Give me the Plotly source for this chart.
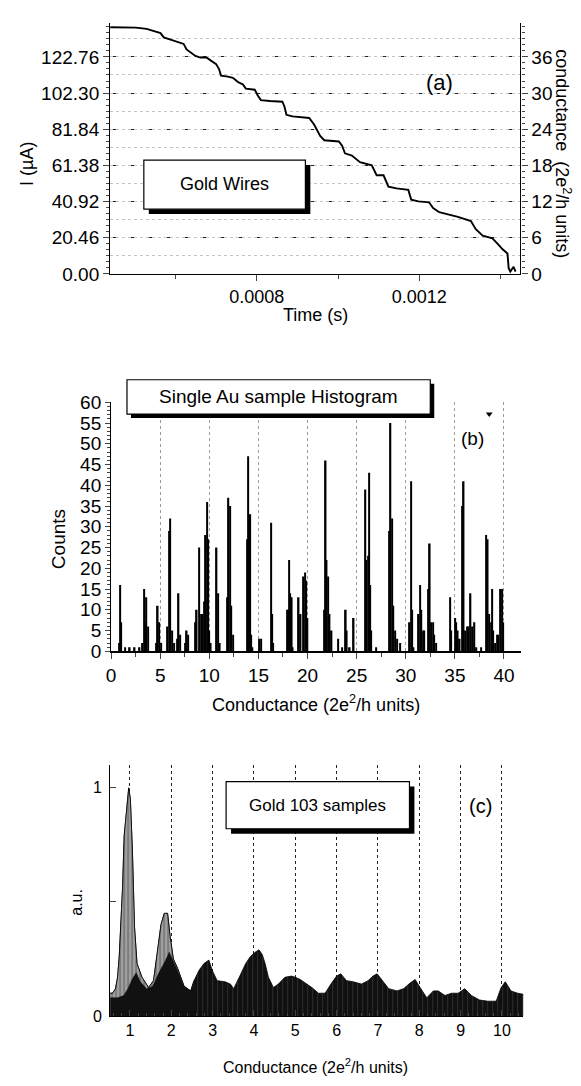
import plotly.graph_objects as go

# (a) current trace while a gold wire breaks
time_s = [0.000439, 0.000473, 0.000502, 0.000529, 0.000554, 0.000563, 0.000571, 0.000588,
          0.000607, 0.000620, 0.000627, 0.000637, 0.000649, 0.000661, 0.000676, 0.000688,
          0.000700, 0.000707, 0.000712, 0.000729, 0.000741, 0.000754, 0.000766, 0.000773,
          0.000795, 0.000802, 0.000810, 0.000832, 0.000863, 0.000868, 0.000873, 0.000888,
          0.000920, 0.000929, 0.000941, 0.000956, 0.000966, 0.000985, 0.001002, 0.001010,
          0.001017, 0.001034, 0.001054, 0.001083, 0.001095, 0.001112, 0.001124, 0.001144,
          0.001173, 0.001180, 0.001198, 0.001224, 0.001234, 0.001249, 0.001271, 0.001295,
          0.001327, 0.001339, 0.001356, 0.001380, 0.001393, 0.001405, 0.001417, 0.001420,
          0.001424, 0.001432, 0.001437]
current_ua = [139.5, 139.5, 139.3, 138.6, 137.1, 136.2, 133.8, 132.5,
              131.3, 130.1, 127.0, 125.2, 123.3, 122.4, 122.4, 120.5,
              118.7, 115.9, 112.2, 111.6, 110.9, 108.5, 107.2, 104.8,
              104.2, 101.1, 98.3, 97.8, 97.4, 94.7, 90.0, 89.1,
              88.6, 88.2, 84.5, 78.0, 75.6, 75.2, 74.9, 72.5,
              68.2, 66.9, 63.2, 61.4, 55.8, 55.8, 49.4, 48.4,
              47.5, 42.0, 41.0, 40.5, 37.3, 34.9, 33.7, 32.3,
              29.9, 25.3, 21.6, 20.1, 17.0, 13.9, 11.5, 3.2,
              1.3, 4.0, 1.3]
left_ticks = [0.00, 20.46, 40.92, 61.38, 81.84, 102.30, 122.76]
right_ticks = [0, 6, 12, 18, 24, 30, 36]

# (b) single Au sample histogram
hist_g = [0.8, 0.9, 1.0, 1.4, 1.9, 2.4, 2.9, 3.2, 3.35, 3.5, 3.6, 3.75, 4.6, 4.75, 4.9, 5.1,
          5.7, 5.9, 6.02, 6.2, 6.4, 6.75, 6.87, 7.0, 7.55, 7.7, 7.85, 8.55, 8.72, 8.96, 9.16,
          9.33, 9.5, 9.63, 9.77, 9.87, 10.0, 10.15, 10.74, 10.9, 11.07, 11.85, 11.95, 12.09,
          12.25, 12.4, 13.84, 13.94, 14.04, 14.16, 14.26, 14.4, 15.1, 15.25, 16.3, 16.4, 16.5,
          17.9, 18.0, 18.15, 18.25, 18.4, 18.5, 19.1, 19.3, 19.6, 19.75, 19.85, 20.0, 21.7,
          21.85, 21.95, 22.1, 22.25, 22.45, 23.1, 23.5, 23.9, 24.0, 24.3, 24.7, 25.9, 26.0,
          26.15, 26.25, 26.4, 26.5, 27.0, 28.3, 28.45, 28.6, 28.75, 28.9, 29.1, 29.4, 30.4,
          30.55, 30.65, 30.8, 31.3, 31.45, 31.6, 31.75, 31.9, 32.35, 32.45, 32.6, 32.8, 32.9,
          33.1, 34.5, 34.6, 35.0, 35.15, 35.3, 35.5, 35.8, 35.9, 36.05, 36.3, 36.4, 36.6,
          36.8, 37.0, 37.2, 37.7, 38.2, 38.35, 38.5, 38.7, 38.8, 38.9, 39.1, 39.3, 39.4,
          39.67, 39.8, 39.9]
hist_counts = [2, 16, 7, 1, 1, 1, 1, 2, 15, 7, 13, 6, 2, 11, 7, 2,
               6, 29, 32, 5, 2, 3, 14, 4, 2, 5, 4, 7, 10, 25, 9,
               9, 12, 28, 36, 27, 5, 2, 25, 14, 2, 13, 37, 35,
               11, 4, 27, 47, 33, 33, 4, 1, 3, 3, 31, 9, 2,
               10, 10, 22, 14, 13, 1, 13, 9, 18, 19, 17, 8, 10,
               46, 22, 18, 9, 5, 3, 1, 10, 5, 1, 8, 39, 22,
               23, 43, 16, 5, 1, 29, 55, 32, 11, 5, 3, 2, 7,
               41, 10, 1, 9, 16, 10, 5, 5, 15, 26, 7, 7, 4,
               2, 13, 5, 8, 7, 5, 3, 35, 41, 5, 6, 6, 14,
               6, 7, 1, 1, 28, 27, 9, 7, 15, 5, 2, 4, 4,
               15, 15, 7]
mark_g = [38.5]
mark_counts = [57.2]

# (c) summed histogram of 103 gold samples
sum_g = [0.52, 0.58, 0.65, 0.70, 0.74, 0.78, 0.82, 0.86, 0.92, 0.97, 1.01, 1.06, 1.11, 1.17,
         1.29, 1.45, 1.57, 1.67, 1.75, 1.83, 1.91, 1.97, 2.05, 2.15, 2.31, 2.47, 2.55,
         2.67, 2.79, 2.91, 2.99, 3.11, 3.30, 3.43, 3.51, 3.67, 3.80, 3.91, 4.03, 4.12, 4.20,
         4.27, 4.35, 4.47, 4.59, 4.75, 4.91, 5.00, 5.12, 5.24, 5.40, 5.56, 5.72, 5.88, 6.00,
         6.10, 6.24, 6.40, 6.60, 6.76, 6.88, 6.98, 7.10, 7.26, 7.46, 7.62, 7.78, 7.90, 8.02,
         8.18, 8.34, 8.46, 8.62, 8.78, 8.94, 9.10, 9.26, 9.46, 9.66, 9.86, 9.98, 10.08,
         10.22, 10.38, 10.52]
sum_au = [0.10, 0.10, 0.12, 0.17, 0.26, 0.40, 0.56, 0.79, 0.92, 1.00, 0.95, 0.72, 0.39, 0.23,
          0.17, 0.125, 0.155, 0.30, 0.40, 0.45, 0.45, 0.35, 0.25, 0.21, 0.13, 0.11, 0.155,
          0.20, 0.23, 0.245, 0.20, 0.155, 0.15, 0.14, 0.12, 0.18, 0.23, 0.26, 0.28, 0.29, 0.27,
          0.23, 0.17, 0.125, 0.14, 0.17, 0.175, 0.17, 0.16, 0.145, 0.125, 0.10, 0.10, 0.145, 0.175,
          0.185, 0.155, 0.15, 0.14, 0.155, 0.175, 0.185, 0.155, 0.12, 0.11, 0.12, 0.145, 0.16, 0.125,
          0.08, 0.11, 0.11, 0.09, 0.10, 0.10, 0.12, 0.09, 0.07, 0.065, 0.065, 0.125, 0.15,
          0.11, 0.10, 0.095]
core_g = [0.52, 0.70, 0.85, 0.95, 1.05, 1.15, 1.25, 1.40, 1.55, 1.70, 1.85, 1.95, 2.05, 2.15,
          2.30, 2.47, 2.55]
core_au = [0.08, 0.08, 0.09, 0.12, 0.16, 0.19, 0.15, 0.12, 0.13, 0.19, 0.24, 0.28, 0.24, 0.20,
           0.13, 0.11, 0.15]
peak_end = 27  # points of sum_g up to G = 2.55 (grey-topped first two peaks)

# page is 581x1086, the html body keeps an 8 px margin round the figure
PAGE_M = 8
W, H = 581 - 2 * PAGE_M, 1086 - 2 * PAGE_M
FONT = "Liberation Sans, Arial, sans-serif"
G0_UA = 3.41  # current of one conductance quantum at the bias used


def px(x):
    return (x - PAGE_M) / W


def py(y):
    return 1 - (y - PAGE_M) / H


fig = go.Figure()

# ---- (a)
fig.add_trace(go.Scatter(x=time_s, y=current_ua, mode="lines",
                         line=dict(color="black", width=1.9), xaxis="x", yaxis="y"))
fig.add_trace(go.Scatter(x=[time_s[0]], y=[current_ua[0] / G0_UA], mode="markers",
                         marker=dict(opacity=0), xaxis="x", yaxis="y2", hoverinfo="skip"))
fig.add_trace(go.Scatter(x=[time_s[0]], y=[current_ua[0]], mode="markers",
                         marker=dict(opacity=0), xaxis="x", yaxis="y3", hoverinfo="skip"))

# ---- (b)
fig.add_trace(go.Bar(x=hist_g, y=hist_counts, width=0.15, marker=dict(color="black", line_width=0),
                     xaxis="x2", yaxis="y4"))
fig.add_trace(go.Scatter(x=mark_g, y=mark_counts, mode="markers",
                         marker=dict(symbol="triangle-down", size=6, color="black"),
                         xaxis="x2", yaxis="y4"))

# ---- (c)
fig.add_trace(go.Scatter(x=sum_g, y=sum_au, mode="lines", fill="tozeroy",
                         line=dict(color="black", width=0.8),
                         fillpattern=dict(shape="|", bgcolor="#101010", fgcolor="#5a5a5a",
                                          size=5, solidity=0.15),
                         xaxis="x3", yaxis="y5"))
fig.add_trace(go.Scatter(x=sum_g[:peak_end], y=sum_au[:peak_end], mode="lines", fill="tozeroy",
                         line=dict(color="black", width=0.8),
                         fillpattern=dict(shape="|", bgcolor="#a0a0a0", fgcolor="#111111",
                                          size=4, solidity=0.25),
                         xaxis="x3", yaxis="y5"))
fig.add_trace(go.Scatter(x=core_g, y=core_au, mode="lines", fill="tozeroy",
                         line=dict(color="#111111", width=0.5), fillcolor="#111111",
                         xaxis="x3", yaxis="y5"))

axis_common = dict(showline=True, linecolor="black", zeroline=False, fixedrange=True)


def tfont(size):
    return dict(family=FONT, size=size, color="black")


fig.update_layout(
    width=W, height=H, showlegend=False,
    margin=dict(l=0, r=0, t=0, b=0),
    paper_bgcolor="white", plot_bgcolor="white",
    font=dict(family=FONT, color="black"),
    # (a)
    xaxis=dict(domain=[px(106), px(520)], range=[0.000439, 0.001449], anchor="y",
               tick0=0.0004, dtick=0.0004, tickformat=".4f", ticks="outside", ticklen=6,
               minor=dict(dtick=0.0002, ticks="outside", ticklen=4),
               showgrid=False, tickfont=tfont(18), linewidth=1.2, **axis_common),
    yaxis=dict(domain=[py(269), py(13)], range=[0, 142], anchor="x",
               tickvals=left_ticks, tickformat=".2f", ticks="outside", ticklen=6,
               minor=dict(dtick=G0_UA, ticks="outside", ticklen=3, showgrid=False),
               showgrid=True, gridcolor="#222", griddash="dash", gridwidth=1,
               tickfont=tfont(19), linewidth=1.2, **axis_common),
    yaxis2=dict(overlaying="y", side="right", anchor="x", range=[0, 142 / G0_UA],
                tickvals=right_ticks, ticks="outside", ticklen=6,
                minor=dict(dtick=1, ticks="outside", ticklen=3, showgrid=False),
                showgrid=False, tickfont=tfont(19), linewidth=1.2, **axis_common),
    yaxis3=dict(overlaying="y", anchor="x", range=[0, 142], dtick=3 * G0_UA,
                showticklabels=False, ticks="", showline=False, zeroline=False,
                showgrid=True, gridcolor="#c4c4c4", griddash="dot", gridwidth=1),
    # (b)
    xaxis2=dict(domain=[px(107), px(520.7)], range=[0, 41.75], anchor="y4",
                dtick=5, ticks="outside", ticklen=6,
                minor=dict(dtick=2.5, ticks="outside", ticklen=4),
                showgrid=True, gridcolor="#9a9a9a", griddash="dot", gridwidth=1,
                tickfont=tfont(19), linewidth=1.8, **axis_common),
    yaxis4=dict(domain=[py(654), py(400)], range=[0, 60], anchor="x2",
                dtick=5, ticks="outside", ticklen=5,
                minor=dict(dtick=1, ticks="outside", ticklen=3),
                showgrid=False, tickfont=tfont(19), linewidth=1.2, **axis_common),
    # (c)
    xaxis3=dict(domain=[px(106), px(523)], range=[0.52, 10.52], anchor="y5",
                dtick=1, ticks="inside", ticklen=6,
                minor=dict(dtick=0.2, ticks="inside", ticklen=3),
                showgrid=True, gridcolor="#222", griddash="dot", gridwidth=1,
                tickfont=tfont(16), linewidth=1.2, **axis_common),
    yaxis5=dict(domain=[py(1026), py(770)], range=[0, 1.1], anchor="x3",
                tick0=0, dtick=1, ticks="inside", ticklen=6,
                minor=dict(dtick=0.5, ticks="inside", ticklen=6),
                ticklabelstandoff=4, showgrid=False, tickfont=tfont(16),
                linewidth=1.2, **axis_common),
)

# boxes with drop shadows
boxes = [(140, 153, 303, 203, 5), (123, 377, 429, 412, 4), (223, 787, 408, 835, 5)]
for x0, y0, x1, y1, s in boxes:
    fig.add_shape(type="rect", xref="paper", yref="paper", layer="above",
                  x0=px(x0 + s), x1=px(x1 + s), y0=py(y1 + s), y1=py(y0 + s),
                  fillcolor="black", line_width=0)
    fig.add_shape(type="rect", xref="paper", yref="paper", layer="above",
                  x0=px(x0), x1=px(x1), y0=py(y1), y1=py(y0),
                  fillcolor="white", line=dict(color="black", width=1.2))


def label(x, y, text, size, angle=0):
    fig.add_annotation(x=px(x), y=py(y), xref="paper", yref="paper", text=text,
                       showarrow=False, textangle=angle, xanchor="center", yanchor="middle",
                       font=tfont(size))


label(221, 177, "Gold Wires", 18)
label(276, 394, "Single Au sample Histogram", 19)
label(315, 811, "Gold 103 samples", 17)
label(438, 74, "(a)", 22)
label(472, 437, "(b)", 19)
label(480, 812, "(c)", 20)
label(313, 311, "Time (s)", 18)
label(22, 157, "I (µA)", 18, -90)
label(563, 146, "conductance  (2e<sup>2</sup>/h units)", 18, 90)
label(54, 540, "Counts", 19, -90)
label(314, 707, "Conductance (2e<sup>2</sup>/h units)", 18)
label(72, 910, "a.u.", 16, -90)
label(313, 1077, "Conductance (2e<sup>2</sup>/h units)", 16)

fig.write_html("out.html")
